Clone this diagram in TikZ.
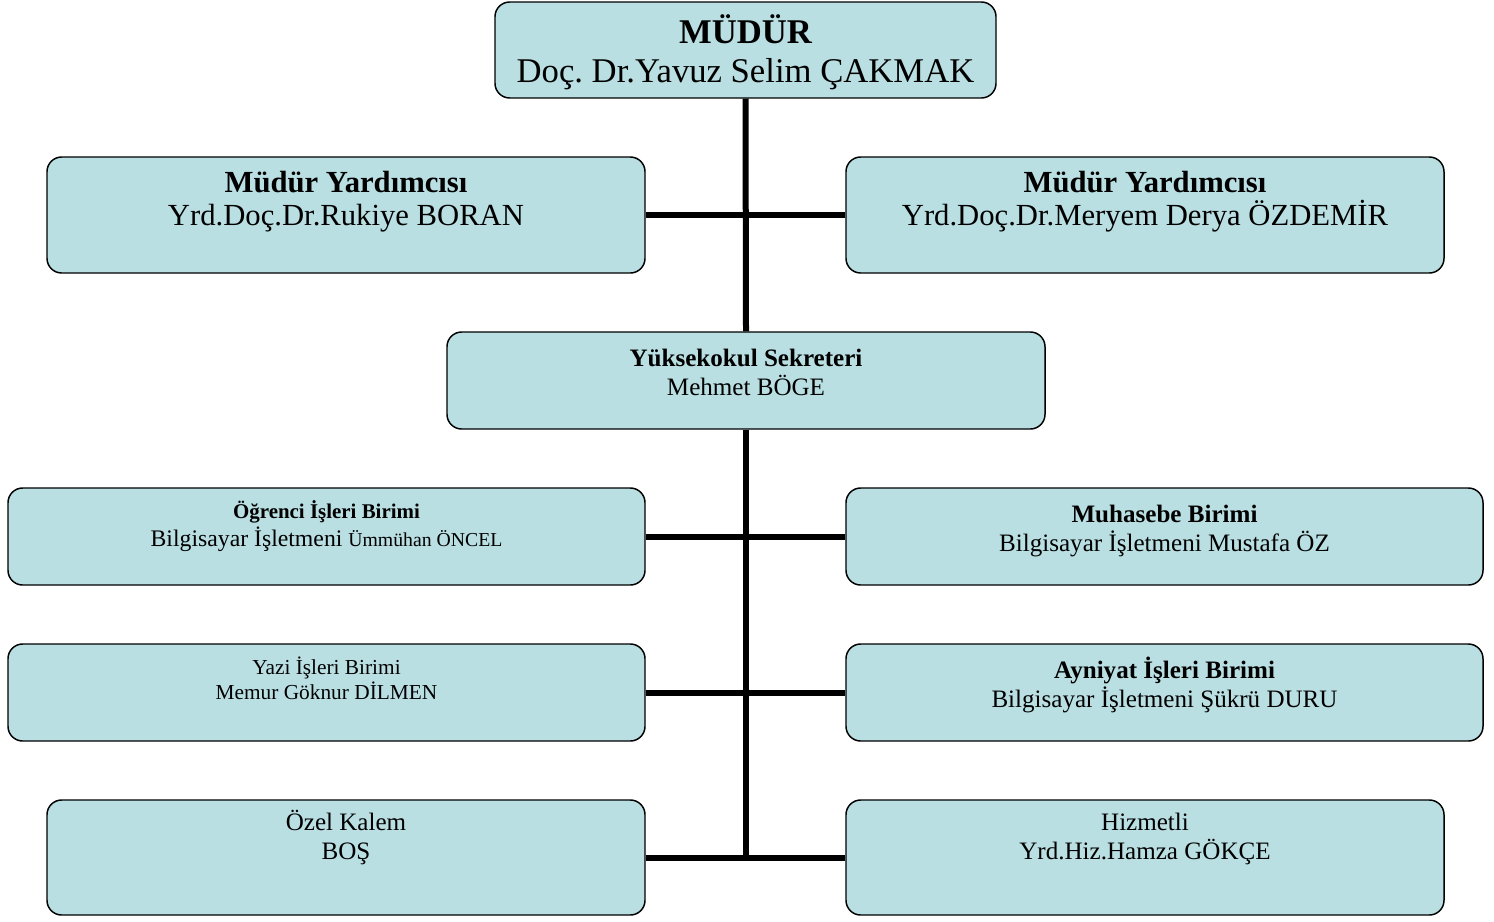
\documentclass[tikz,border=0pt]{standalone}
\usepackage{fontspec}
\setmainfont{Liberation Serif}
\usetikzlibrary{fit}
\definecolor{boxfill}{RGB}{185,223,227}
\frenchspacing
\tikzset{
  x=0.75pt, y=-0.75pt,
  box/.style={draw=black, line width=1.1pt, fill=boxfill, rounded corners=11pt, inner sep=0pt},
  conn/.style={draw=black, line width=4.5pt},
  txt/.style={anchor=base, inner sep=0pt},
}
\begin{document}
\begin{tikzpicture}
\useasboundingbox (0,0) rectangle (1494,921);
% boxes
\node[box, fit={(495,2)(996,98)}] (mudur) {};
\node[box, fit={(47,157)(645,273)}] (my1) {};
\node[box, fit={(846,157)(1444,273)}] (my2) {};
\node[box, fit={(447,332)(1045,429)}] (sek) {};
\node[box, fit={(8,488)(645,585)}] (ogr) {};
\node[box, fit={(846,488)(1483,585)}] (muh) {};
\node[box, fit={(8,644)(645,741)}] (yazi) {};
\node[box, fit={(846,644)(1483,741)}] (ayn) {};
\node[box, fit={(47,800)(645,915)}] (ozel) {};
\node[box, fit={(846,800)(1444,915)}] (hiz) {};
% connectors
\coordinate (bot) at (746,857.5);
\draw[conn] (mudur.south) -- (sek.north);
\draw[conn] (sek.south) -- (bot);
\draw[conn] (my1.east) -- (my2.west);
\draw[conn] (ogr.east) -- (muh.west);
\draw[conn] (yazi.east) -- (ayn.west);
\draw[conn] (ozel.east) -- (hiz.west);
% texts
\node[txt, font=\fontsize{26}{30}\selectfont\bfseries] (t1a) at (745.5,43) {MÜDÜR};
\node[txt, font=\fontsize{26}{30}\selectfont] (t1b) at (745.5,82) {Doç. Dr.Yavuz Selim ÇAKMAK};
\node[txt, font=\fontsize{23}{26}\selectfont\bfseries] (t2a) at (346,192) {Müdür Yardımcısı};
\node[txt, font=\fontsize{23}{26}\selectfont] (t2b) at (346,225) {Yrd.Doç.Dr.Rukiye BORAN};
\node[txt, font=\fontsize{23}{26}\selectfont\bfseries] (t3a) at (1145,192) {Müdür Yardımcısı};
\node[txt, font=\fontsize{23}{26}\selectfont] (t3b) at (1145,225) {Yrd.Doç.Dr.Meryem Derya ÖZDEMİR};
\node[txt, font=\fontsize{18.8}{22}\selectfont\bfseries] (t4a) at (746,366) {Yüksekokul Sekreteri};
\node[txt, font=\fontsize{18.8}{22}\selectfont] (t4b) at (746,395) {Mehmet BÖGE};
\node[txt, font=\fontsize{15.7}{19}\selectfont\bfseries] (t5a) at (326.5,518) {Öğrenci İşleri Birimi};
\node[txt] (t5b) at (326.5,546) {\fontsize{17.8}{21}\selectfont Bilgisayar İşletmeni \fontsize{14.8}{18}\selectfont Ümmühan ÖNCEL};
\node[txt, font=\fontsize{18.8}{22}\selectfont\bfseries] (t6a) at (1164.5,522) {Muhasebe Birimi};
\node[txt, font=\fontsize{18.8}{22}\selectfont] (t6b) at (1164.5,551) {Bilgisayar İşletmeni Mustafa ÖZ};
\node[txt, font=\fontsize{16}{19}\selectfont] (t7a) at (326.5,674) {Yazi İşleri Birimi};
\node[txt, font=\fontsize{16}{19}\selectfont] (t7b) at (326.5,699) {Memur Göknur DİLMEN};
\node[txt, font=\fontsize{18.8}{22}\selectfont\bfseries] (t8a) at (1164.5,678) {Ayniyat İşleri Birimi};
\node[txt, font=\fontsize{18.8}{22}\selectfont] (t8b) at (1164.5,707) {Bilgisayar İşletmeni Şükrü DURU};
\node[txt, font=\fontsize{18.8}{22}\selectfont] (t9a) at (346,830) {Özel Kalem};
\node[txt, font=\fontsize{18.8}{22}\selectfont] (t9b) at (346,859) {BOŞ};
\node[txt, font=\fontsize{18.8}{22}\selectfont] (t10a) at (1145,830) {Hizmetli};
\node[txt, font=\fontsize{18.8}{22}\selectfont] (t10b) at (1145,859) {Yrd.Hiz.Hamza GÖKÇE};
\end{tikzpicture}
\end{document}
